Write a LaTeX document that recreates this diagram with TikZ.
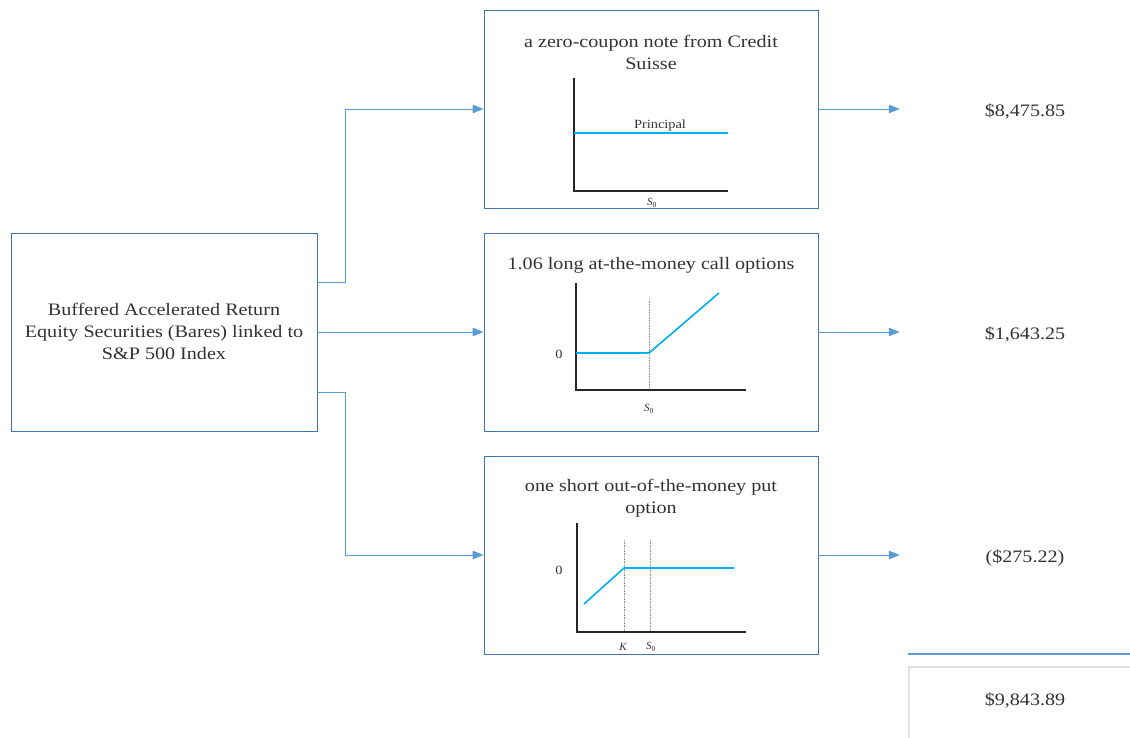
\documentclass[tikz,border=0pt]{standalone}
\usepackage{fontspec}
\setmainfont{Liberation Serif}
\newfontfamily\widefont[FakeStretch=1.15]{Liberation Serif}
\usetikzlibrary{arrows.meta}
\definecolor{boxc}{RGB}{65,113,176}
\definecolor{connc}{RGB}{91,155,213}
\definecolor{payc}{RGB}{0,176,240}
\definecolor{txtc}{RGB}{50,50,50}
\tikzset{
  box/.style={draw=boxc, line width=0.9pt, minimum width=#1, minimum height=198pt, inner sep=0pt},
  box/.default=334pt,
  conn/.style={draw=connc, line width=1pt, -{Triangle[length=11pt,width=8.5pt]}},
  big/.style={font=\widefont\fontsize{17.5}{22}\selectfont, text=txtc, align=center},
  val/.style={font=\widefont\fontsize{17.5}{22}\selectfont, text=txtc, minimum width=250pt, inner sep=0pt},
  axis/.style={draw=black!85, line width=1.2pt},
  pay/.style={draw=payc, line width=1.6pt},
  guide/.style={draw=black!45, line width=0.6pt, densely dotted},
  small/.style={font=\widefont\fontsize{12.5}{13}\selectfont, text=txtc, inner sep=0pt},
  tiny/.style={font=\fontsize{11}{12}\selectfont\itshape, text=txtc, inner sep=0pt}
}
\newcommand{\vlow}[1]{\raisebox{-7pt}[0pt][0pt]{#1}}
\begin{document}
\begin{tikzpicture}[x=1pt,y=-1pt]
\useasboundingbox (0,0) rectangle (1130,737);
% boxes
\node[box=306pt] (left) at (164,332) {};
\node[big] (lefttxt) at (164,331) {Buffered Accelerated Return\\Equity Securities (Bares) linked to\\S\&P 500 Index};
\node[box] (top) at (651,109) {};
\node[box] (mid) at (651,332) {};
\node[box] (bot) at (651,555) {};
% titles
\node[big] (toptitle) at (651,52) {a zero-coupon note from Credit\\Suisse};
\node[big] (midtitle) at (651,265) {1.06 long at-the-money call options};
\node[big] (bottitle) at (651,498) {one short out-of-the-money put\\option};
% connectors from left
\coordinate (l1) at (317,282);
\coordinate (l3) at (317,392);
\draw[conn] (l1) -- (345,282) |- (top.west);
\draw[conn] (left.east) -- (mid.west);
\draw[conn] (l3) -- (345,392) |- (bot.west);
% values
\node[val] (v1) at (1025,109) {\vlow{\$8,475.85}};
\node[val] (v2) at (1025,332) {\vlow{\$1,643.25}};
\node[val] (v3) at (1025,555) {\vlow{(\$275.22)}};
\draw[conn] (top.east) -- (v1.west);
\draw[conn] (mid.east) -- (v2.west);
\draw[conn] (bot.east) -- (v3.west);
% total
\draw[draw=connc, line width=1.4pt] (908,654) -- (1131,654);
\draw[draw=black!12, line width=1.2pt] (1135,667) -- (909,667) -- (909,740);
\node[val] (total) at (1025,700) {\$9,843.89};
% chart 1
\draw[axis] (574,78) -- (574,191) -- (728,191);
\draw[pay] (574,133) -- (728,133);
\node[small] (princ) at (660,125) {Principal};
\node[tiny] (s1) at (652,203) {S\textsubscript{\upshape 0}};
% chart 2
\draw[guide] (649,299) -- (649,390);
\draw[axis] (576,283) -- (576,390) -- (746,390);
\draw[pay] (576,353) -- (649,353) -- (719,293);
\node[small] (z2) at (559,354) {0};
\node[tiny] (s2) at (649,409) {S\textsubscript{\upshape 0}};
% chart 3
\draw[guide] (624,540) -- (624,632);
\draw[guide] (650,540) -- (650,632);
\draw[axis] (577,523) -- (577,632) -- (746,632);
\draw[pay] (584,604) -- (624,568) -- (734,568);
\node[small] (z3) at (559,570) {0};
\node[tiny] (k3) at (623,647) {K};
\node[tiny] (s3) at (651,647) {S\textsubscript{\upshape 0}};
\end{tikzpicture}
\end{document}
